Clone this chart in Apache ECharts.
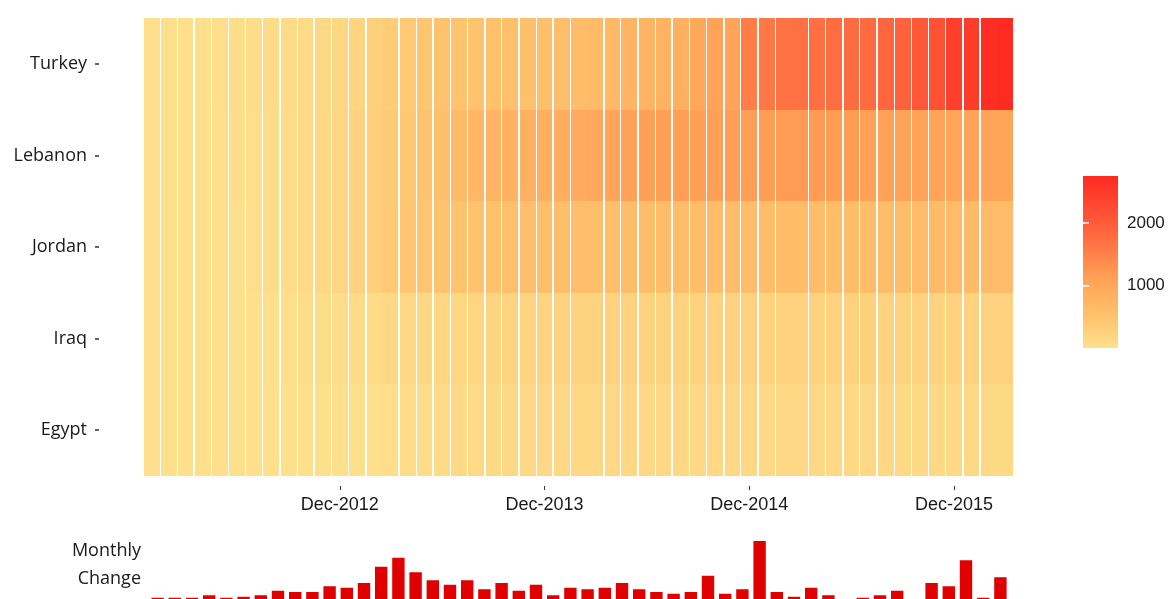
<!DOCTYPE html>
<html>
<head>
<meta charset="utf-8">
<title>Syrian refugees by host country</title>
<script src="https://cdn.jsdelivr.net/npm/echarts@6/dist/echarts.min.js"></script>
<style>
  html, body { margin: 0; padding: 0; background: #fff; }
  #main { width: 1169px; height: 599px; }
</style>
</head>
<body>
<div id="main"></div>
<script>
// heatmap columns, one per month
const months = [
  '2012-01','2012-02','2012-03','2012-04','2012-05','2012-06','2012-07','2012-08','2012-09','2012-10','2012-11','2012-12',
  '2013-01','2013-02','2013-03','2013-04','2013-05','2013-06','2013-07','2013-08','2013-09','2013-10','2013-11','2013-12',
  '2014-01','2014-02','2014-03','2014-04','2014-05','2014-06','2014-07','2014-08','2014-09','2014-10','2014-11','2014-12',
  '2015-01','2015-02','2015-03','2015-04','2015-05','2015-06','2015-07','2015-08','2015-09','2015-10','2015-11','2015-12',
  '2016-01','2016-02','2016-03'
];
// rows, bottom to top
const countries = ['Egypt', 'Iraq', 'Jordan', 'Lebanon', 'Turkey'];

// registered refugees (thousands)
const turkey = [
  9, 11, 17, 24, 27, 33, 44, 80, 93, 101, 127, 148,
  170, 280, 350, 400, 440, 490, 510, 520, 530, 545, 555, 562,
  580, 610, 650, 700, 750, 790, 815, 840, 1000, 1080, 1065, 1552,
  1622, 1680, 1717, 1740, 1772, 1790, 1805, 1860, 1920, 2072, 2140, 2450,
  2480, 2690, 2749
];
const lebanon = [
  5, 7, 10, 17, 23, 27, 30, 50, 75, 100, 135, 170,
  230, 300, 380, 430, 520, 560, 640, 720, 780, 800, 830, 860,
  900, 950, 1000, 1060, 1100, 1120, 1150, 1140, 1130, 1130, 1140, 1150,
  1160, 1180, 1190, 1185, 1175, 1175, 1110, 1110, 1080, 1075, 1070, 1070,
  1067, 1060, 1050
];
const jordan = [
  4, 5, 6, 8, 12, 25, 32, 45, 75, 100, 130, 190,
  230, 280, 400, 460, 470, 500, 510, 515, 540, 550, 560, 576,
  590, 595, 590, 595, 600, 605, 610, 613, 617, 618, 619, 620,
  622, 624, 627, 629, 629, 629, 629, 629, 630, 633, 633, 633,
  635, 636, 637
];
const iraq = [
  2, 2, 3, 4, 5, 6, 8, 15, 30, 45, 60, 67,
  80, 100, 120, 140, 150, 155, 160, 195, 200, 205, 208, 210,
  215, 218, 220, 220, 222, 222, 215, 215, 216, 218, 222, 225,
  235, 240, 245, 247, 249, 250, 250, 249, 247, 245, 245, 245,
  245, 246, 246
];
const egypt = [
  1, 1, 2, 2, 3, 4, 5, 6, 7, 9, 11, 13,
  16, 22, 35, 55, 75, 85, 100, 110, 125, 128, 130, 131,
  133, 135, 136, 137, 138, 139, 139, 140, 140, 140, 140, 139,
  138, 137, 136, 135, 134, 133, 132, 129, 128, 127, 127, 123,
  120, 118, 118
];
const rows = [egypt, iraq, jordan, lebanon, turkey];

// monthly change bars (thousands)
const changeMonths = months.slice(0, 50);
const monthlyChange = [
  18, 18, 18, 38, 18, 26, 38, 74, 64, 64, 110, 98,
  136, 266, 338, 222, 158, 122, 158, 86, 136, 74, 122, 38,
  98, 86, 98, 136, 86, 64, 50, 64, 194, 50, 86, 472,
  64, 26, 98, 38, 0, 18, 38, 74, 0, 136, 110, 318,
  18, 182
];

const xTickMonths = ['2012-12', '2013-12', '2014-12', '2015-12'];
const legendTicks = [1000, 2000];
const legendMin = 0;
const legendMax = 2750;

const colorStops = ['#fee08c', '#ffc06c', '#ffa257', '#ff7544', '#ff4e33', '#ff2a22'];
const MONTH_NAMES = ['Jan','Feb','Mar','Apr','May','Jun','Jul','Aug','Sep','Oct','Nov','Dec'];
const DAY = 86400000;
const TILE_HALF = 14 * DAY;

function toTime(m) {
  const p = m.split('-');
  return Date.UTC(+p[0], +p[1] - 1, 1);
}

const tileData = [];
rows.forEach((vals, r) => {
  vals.forEach((v, i) => tileData.push([toTime(months[i]), r, v]));
});
const xTicks = xTickMonths.map(toTime);

function renderTile(params, api) {
  const a = api.coord([api.value(0) - TILE_HALF, api.value(1)]);
  const b = api.coord([api.value(0) + TILE_HALF, api.value(1)]);
  const bandH = api.size([0, 1])[1];
  const x0 = Math.round(a[0]), x1 = Math.round(b[0]);
  const y0 = Math.round(a[1] - bandH / 2), y1 = Math.round(a[1] + bandH / 2);
  return {
    type: 'rect',
    shape: { x: x0, y: y0, width: x1 - x0, height: y1 - y0 },
    style: { fill: api.visual('color') }
  };
}

function renderLegend(params, api) {
  const lo = api.coord([0, api.value(1)]);
  const hi = api.coord([1, api.value(2)]);
  const stops = colorStops.map((c, i) => ({ offset: i / (colorStops.length - 1), color: c }));
  return {
    type: 'rect',
    shape: { x: lo[0], y: hi[1], width: hi[0] - lo[0], height: lo[1] - hi[1] },
    style: { fill: new echarts.graphic.LinearGradient(0, 1, 0, 0, stops) }
  };
}

const textColor = '#1a1a1a';
const chart = echarts.init(document.getElementById('main'));

chart.setOption({
  animation: false,
  grid: [
    { left: 144, right: 156, top: 18, bottom: 123, outerBoundsMode: 'none' },
    { left: 149, width: 860, top: 530, height: 70, outerBoundsMode: 'none' },
    { left: 1083, width: 35, top: 176, height: 172, outerBoundsMode: 'none' }
  ],
  visualMap: {
    type: 'continuous',
    show: false,
    seriesIndex: 0,
    dimension: 2,
    min: legendMin,
    max: legendMax,
    inRange: { color: colorStops }
  },
  xAxis: [
    {
      gridIndex: 0,
      type: 'value',
      min: toTime(months[0]) - TILE_HALF,
      max: toTime(months[months.length - 1]) + TILE_HALF,
      offset: 10,
      axisLine: { show: false },
      splitLine: { show: false },
      axisTick: { show: true, customValues: xTicks, length: 4, lineStyle: { color: '#333', width: 1 } },
      axisLabel: {
        customValues: xTicks,
        margin: 10,
        fontSize: 18,
        fontFamily: 'Liberation Sans, Arial, sans-serif',
        color: textColor,
        formatter: v => {
          const d = new Date(v);
          return MONTH_NAMES[d.getUTCMonth()] + '-' + d.getUTCFullYear();
        }
      }
    },
    { gridIndex: 1, type: 'category', data: changeMonths, show: false },
    { gridIndex: 2, type: 'value', min: 0, max: 1, show: false }
  ],
  yAxis: [
    {
      gridIndex: 0,
      type: 'category',
      data: countries,
      offset: 45,
      axisLine: { show: false },
      axisTick: { show: true, alignWithLabel: true, length: 4, lineStyle: { color: '#333', width: 1.5 } },
      axisLabel: {
        margin: 12,
        fontSize: 18,
        fontFamily: 'Open Sans, sans-serif',
        color: textColor
      }
    },
    {
      gridIndex: 1,
      type: 'value',
      min: 0,
      max: 560,
      name: 'Monthly\nChange',
      nameLocation: 'middle',
      nameRotate: 0,
      nameGap: 8,
      nameTextStyle: {
        align: 'right',
        verticalAlign: 'middle',
        fontSize: 18,
        lineHeight: 28,
        fontFamily: 'Open Sans, sans-serif',
        color: textColor
      },
      axisLine: { show: false },
      axisTick: { show: false },
      axisLabel: { show: false },
      splitLine: { show: false }
    },
    {
      gridIndex: 2,
      type: 'value',
      position: 'right',
      min: legendMin,
      max: legendMax,
      z: 10,
      axisLine: { show: false },
      splitLine: { show: false },
      axisTick: { show: true, inside: true, length: 6, customValues: legendTicks, lineStyle: { color: '#fff', width: 1.5 } },
      axisLabel: {
        customValues: legendTicks,
        margin: 9,
        fontSize: 17,
        fontFamily: 'Liberation Sans, Arial, sans-serif',
        color: textColor,
        formatter: v => String(v)
      }
    },
    {
      gridIndex: 2,
      type: 'value',
      position: 'left',
      min: legendMin,
      max: legendMax,
      z: 10,
      axisLine: { show: false },
      splitLine: { show: false },
      axisLabel: { show: false },
      axisTick: { show: true, inside: true, length: 6, customValues: legendTicks, lineStyle: { color: '#fff', width: 1.5 } }
    }
  ],
  series: [
    {
      type: 'custom',
      xAxisIndex: 0,
      yAxisIndex: 0,
      renderItem: renderTile,
      encode: { x: 0, y: 1 },
      data: tileData
    },
    {
      type: 'bar',
      xAxisIndex: 1,
      yAxisIndex: 1,
      barWidth: '72%',
      itemStyle: { color: '#e00000' },
      data: monthlyChange
    },
    {
      type: 'custom',
      xAxisIndex: 2,
      yAxisIndex: 2,
      renderItem: renderLegend,
      encode: { x: 0, y: [1, 2] },
      data: [[0, legendMin, legendMax]]
    }
  ]
});
</script>
</body>
</html>
